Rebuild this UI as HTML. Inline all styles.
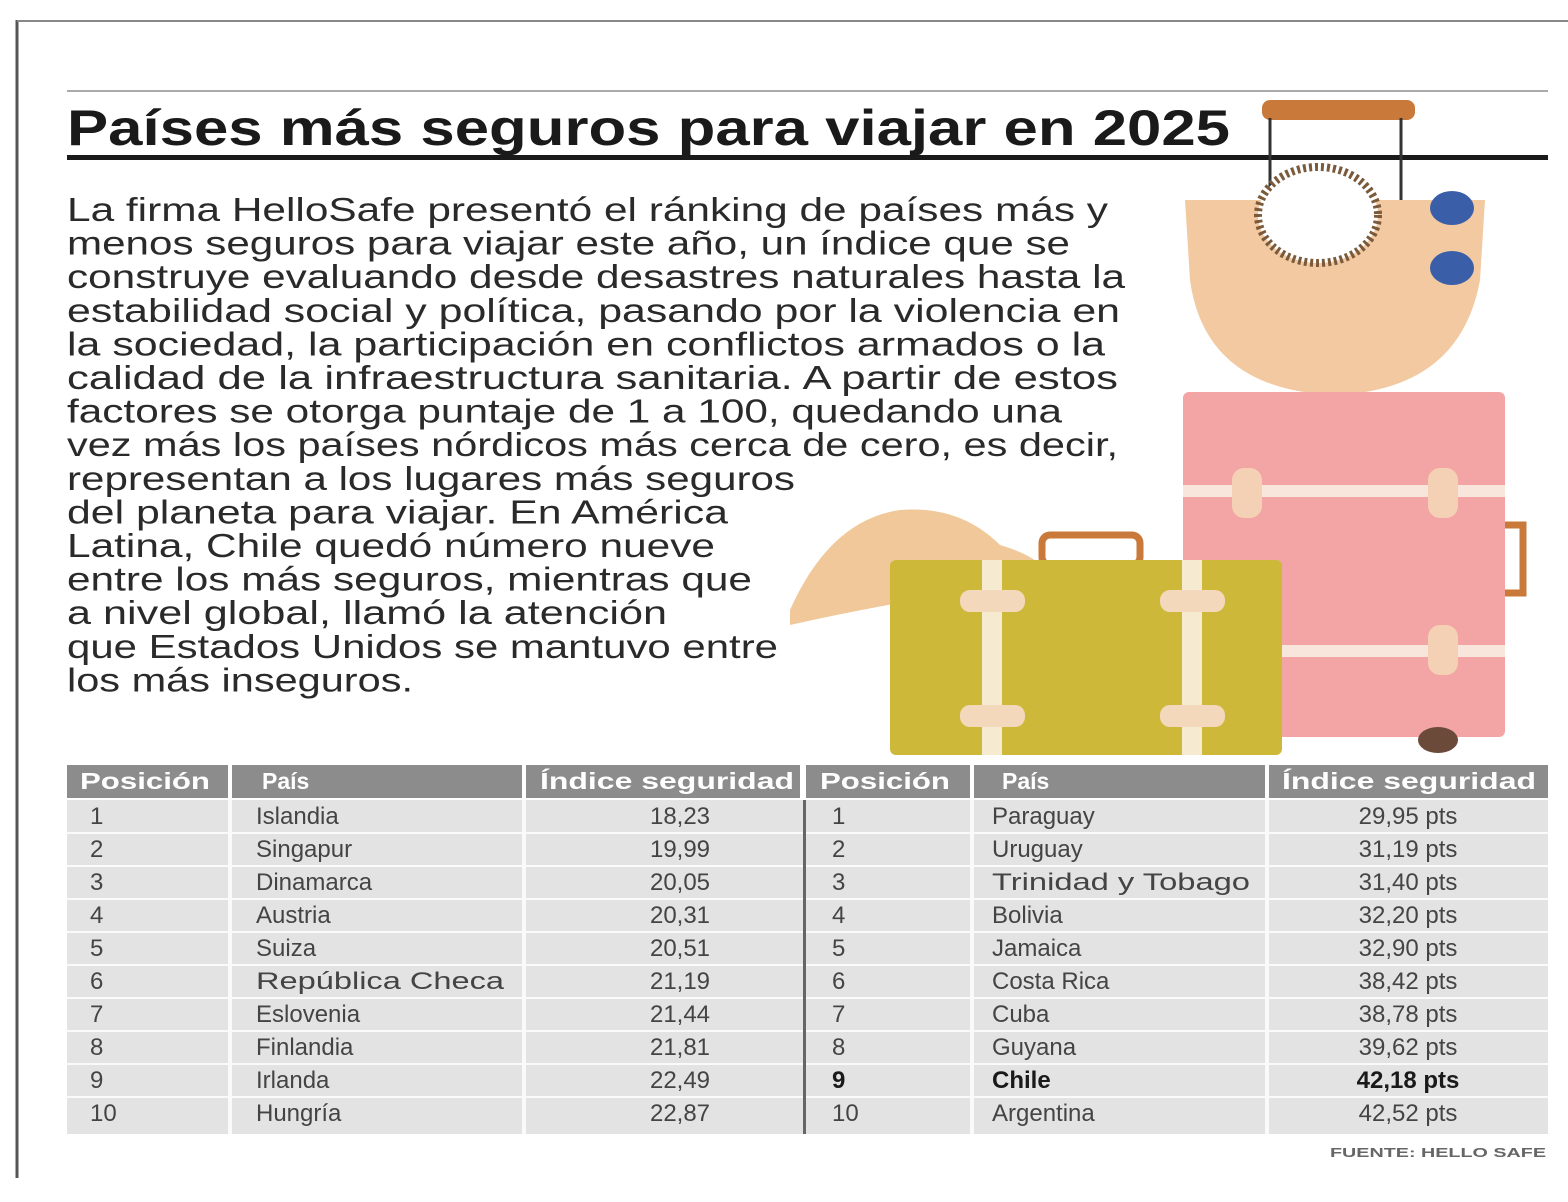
<!DOCTYPE html>
<html><head><meta charset="utf-8"><style>
html,body{margin:0;padding:0;background:#fff;}
svg{display:block;font-family:"Liberation Sans",sans-serif;}
</style></head><body>
<svg width="1568" height="1202" viewBox="0 0 1568 1202">
<rect width="1568" height="1202" fill="#fff"/>
<line x1="17" y1="20" x2="17" y2="1178" stroke="#555" stroke-width="3"/>
<line x1="17" y1="21" x2="1568" y2="21" stroke="#888" stroke-width="2"/>
<line x1="67" y1="91" x2="1548" y2="91" stroke="#aaa" stroke-width="2"/>
<text x="67" y="145" font-size="50" font-weight="bold" fill="#1a1a1a" textLength="1163" lengthAdjust="spacingAndGlyphs">Países más seguros para viajar en 2025</text>
<rect x="67" y="155" width="1481" height="5" fill="#1a1a1a"/>

<g>
<rect x="1262" y="100" width="153" height="20" rx="8" fill="#c97a3a"/>
<line x1="1270" y1="118" x2="1270" y2="200" stroke="#333" stroke-width="3"/>
<line x1="1401" y1="118" x2="1401" y2="200" stroke="#333" stroke-width="3"/>
<path d="M1185 200 L1485 200 L1480 280 Q1460 390 1335 395 Q1205 390 1190 280 Z" fill="#f2c9a0"/>
<ellipse cx="1318" cy="215" rx="60" ry="48" fill="#fff" stroke="#7a5a3a" stroke-width="8" stroke-dasharray="3 3"/>
<ellipse cx="1452" cy="208" rx="22" ry="17" fill="#3a5fa8"/>
<ellipse cx="1452" cy="268" rx="22" ry="17" fill="#3a5fa8"/>
<rect x="1183" y="392" width="322" height="345" rx="6" fill="#f3a4a4"/>
<rect x="1183" y="485" width="322" height="12" fill="#f8e6dc"/>
<rect x="1183" y="645" width="322" height="12" fill="#f8e6dc"/>
<rect x="1232" y="468" width="30" height="50" rx="12" fill="#f4d0b4"/>
<rect x="1428" y="468" width="30" height="50" rx="12" fill="#f4d0b4"/>
<rect x="1428" y="625" width="30" height="50" rx="12" fill="#f4d0b4"/>
<path d="M1505 525 h18 v68 h-18" fill="none" stroke="#c97a3a" stroke-width="7"/>
<ellipse cx="1438" cy="740" rx="20" ry="13" fill="#6b4a3a"/>
<path d="M790 610 Q830 520 900 510 Q960 505 1000 545 Q1050 560 1045 580 Q900 600 790 625 Z" fill="#f0c89a"/>
<rect x="1042" y="535" width="98" height="30" rx="8" fill="none" stroke="#c97a3a" stroke-width="7"/>
<rect x="890" y="560" width="392" height="195" rx="6" fill="#cdb83a"/>
<rect x="982" y="560" width="20" height="195" fill="#f6ead0"/>
<rect x="1182" y="560" width="20" height="195" fill="#f6ead0"/>
<rect x="960" y="590" width="65" height="22" rx="10" fill="#f3d8bb"/>
<rect x="1160" y="590" width="65" height="22" rx="10" fill="#f3d8bb"/>
<rect x="960" y="705" width="65" height="22" rx="10" fill="#f3d8bb"/>
<rect x="1160" y="705" width="65" height="22" rx="10" fill="#f3d8bb"/>
</g>

<g font-size="33" fill="#2a2a2a">
<text x="67" y="221" textLength="1041" lengthAdjust="spacingAndGlyphs">La firma HelloSafe presentó el ránking de países más y</text>
<text x="67" y="254.6" textLength="1003" lengthAdjust="spacingAndGlyphs">menos seguros para viajar este año, un índice que se</text>
<text x="67" y="288.2" textLength="1058" lengthAdjust="spacingAndGlyphs">construye evaluando desde desastres naturales hasta la</text>
<text x="67" y="321.8" textLength="1053" lengthAdjust="spacingAndGlyphs">estabilidad social y política, pasando por la violencia en</text>
<text x="67" y="355.4" textLength="1038" lengthAdjust="spacingAndGlyphs">la sociedad, la participación en conflictos armados o la</text>
<text x="67" y="389" textLength="1051" lengthAdjust="spacingAndGlyphs">calidad de la infraestructura sanitaria. A partir de estos</text>
<text x="67" y="422.6" textLength="995" lengthAdjust="spacingAndGlyphs">factores se otorga puntaje de 1 a 100, quedando una</text>
<text x="67" y="456.2" textLength="1051" lengthAdjust="spacingAndGlyphs">vez más los países nórdicos más cerca de cero, es decir,</text>
<text x="67" y="489.8" textLength="728" lengthAdjust="spacingAndGlyphs">representan a los lugares más seguros</text>
<text x="67" y="523.4" textLength="661" lengthAdjust="spacingAndGlyphs">del planeta para viajar. En América</text>
<text x="67" y="557" textLength="648" lengthAdjust="spacingAndGlyphs">Latina, Chile quedó número nueve</text>
<text x="67" y="590.6" textLength="685" lengthAdjust="spacingAndGlyphs">entre los más seguros, mientras que</text>
<text x="67" y="624.2" textLength="600" lengthAdjust="spacingAndGlyphs">a nivel global, llamó la atención</text>
<text x="67" y="657.8" textLength="711" lengthAdjust="spacingAndGlyphs">que Estados Unidos se mantuvo entre</text>
<text x="67" y="691.4" textLength="346" lengthAdjust="spacingAndGlyphs">los más inseguros.</text>
</g>

<rect x="67" y="765" width="1481" height="33" fill="#8c8c8c"/>
<g fill="#fff">
<rect x="228" y="765" width="4" height="33"/><rect x="522" y="765" width="4" height="33"/>
<rect x="800" y="765" width="6" height="33"/><rect x="970" y="765" width="4" height="33"/><rect x="1265" y="765" width="4" height="33"/>
</g>
<g font-size="23" font-weight="bold" fill="#fff">
<text x="80" y="789" textLength="130" lengthAdjust="spacingAndGlyphs">Posición</text><text x="262" y="789">País</text><text x="540" y="789" textLength="254" lengthAdjust="spacingAndGlyphs">Índice seguridad</text>
<text x="820" y="789" textLength="130" lengthAdjust="spacingAndGlyphs">Posición</text><text x="1002" y="789">País</text><text x="1282" y="789" textLength="254" lengthAdjust="spacingAndGlyphs">Índice seguridad</text>
</g>
<rect x="67" y="800" width="1481" height="334" fill="#e3e3e3"/>
<g fill="#fafafa">
<rect x="228" y="800" width="4" height="334"/><rect x="522" y="800" width="4" height="334"/>
<rect x="970" y="800" width="4" height="334"/><rect x="1265" y="800" width="4" height="334"/>
<rect x="67" y="832" width="1481" height="2"/><rect x="67" y="865" width="1481" height="2"/>
<rect x="67" y="898" width="1481" height="2"/><rect x="67" y="931" width="1481" height="2"/>
<rect x="67" y="964" width="1481" height="2"/><rect x="67" y="997" width="1481" height="2"/>
<rect x="67" y="1030" width="1481" height="2"/><rect x="67" y="1063" width="1481" height="2"/>
<rect x="67" y="1096" width="1481" height="2"/>
</g>
<rect x="803" y="800" width="3" height="334" fill="#666"/>
<g font-size="24" fill="#444">
<text x="90" y="824">1</text><text x="256" y="824">Islandia</text><text x="680" y="824" text-anchor="middle">18,23</text>
<text x="90" y="857">2</text><text x="256" y="857">Singapur</text><text x="680" y="857" text-anchor="middle">19,99</text>
<text x="90" y="890">3</text><text x="256" y="890">Dinamarca</text><text x="680" y="890" text-anchor="middle">20,05</text>
<text x="90" y="923">4</text><text x="256" y="923">Austria</text><text x="680" y="923" text-anchor="middle">20,31</text>
<text x="90" y="956">5</text><text x="256" y="956">Suiza</text><text x="680" y="956" text-anchor="middle">20,51</text>
<text x="90" y="989">6</text><text x="256" y="989" textLength="248" lengthAdjust="spacingAndGlyphs">República Checa</text><text x="680" y="989" text-anchor="middle">21,19</text>
<text x="90" y="1022">7</text><text x="256" y="1022">Eslovenia</text><text x="680" y="1022" text-anchor="middle">21,44</text>
<text x="90" y="1055">8</text><text x="256" y="1055">Finlandia</text><text x="680" y="1055" text-anchor="middle">21,81</text>
<text x="90" y="1088">9</text><text x="256" y="1088">Irlanda</text><text x="680" y="1088" text-anchor="middle">22,49</text>
<text x="90" y="1121">10</text><text x="256" y="1121">Hungría</text><text x="680" y="1121" text-anchor="middle">22,87</text>

<text x="832" y="824">1</text><text x="992" y="824">Paraguay</text><text x="1408" y="824" text-anchor="middle">29,95 pts</text>
<text x="832" y="857">2</text><text x="992" y="857">Uruguay</text><text x="1408" y="857" text-anchor="middle">31,19 pts</text>
<text x="832" y="890">3</text><text x="992" y="890" textLength="258" lengthAdjust="spacingAndGlyphs">Trinidad y Tobago</text><text x="1408" y="890" text-anchor="middle">31,40 pts</text>
<text x="832" y="923">4</text><text x="992" y="923">Bolivia</text><text x="1408" y="923" text-anchor="middle">32,20 pts</text>
<text x="832" y="956">5</text><text x="992" y="956">Jamaica</text><text x="1408" y="956" text-anchor="middle">32,90 pts</text>
<text x="832" y="989">6</text><text x="992" y="989">Costa Rica</text><text x="1408" y="989" text-anchor="middle">38,42 pts</text>
<text x="832" y="1022">7</text><text x="992" y="1022">Cuba</text><text x="1408" y="1022" text-anchor="middle">38,78 pts</text>
<text x="832" y="1055">8</text><text x="992" y="1055">Guyana</text><text x="1408" y="1055" text-anchor="middle">39,62 pts</text>
<g font-weight="bold" fill="#1a1a1a"><text x="832" y="1088">9</text><text x="992" y="1088">Chile</text><text x="1408" y="1088" text-anchor="middle">42,18 pts</text></g>
<text x="832" y="1121">10</text><text x="992" y="1121">Argentina</text><text x="1408" y="1121" text-anchor="middle">42,52 pts</text>
</g>
<text x="1330" y="1157" font-size="13" font-weight="bold" fill="#666" textLength="216" lengthAdjust="spacingAndGlyphs">FUENTE: HELLO SAFE</text>
</svg>
</body></html>
